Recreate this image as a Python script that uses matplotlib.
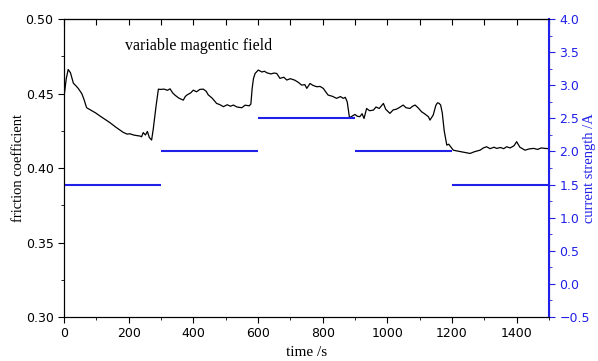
import numpy as np
import matplotlib.pyplot as plt
from matplotlib.ticker import MultipleLocator

# friction coefficient (time in s)
t_fric = [0, 7, 13, 20, 29, 37, 44, 55, 62, 70, 78, 86, 98, 111, 125, 142, 160, 183, 195, 204,
          215, 225, 235, 240, 245, 252, 258, 264, 271, 276, 285, 292, 297, 310, 320, 328,
          336, 343, 355, 369, 375, 380, 392, 400, 410, 420, 431, 440, 446, 458, 472, 483,
          493, 505, 515, 524, 535, 550, 560, 573, 578, 582, 586, 591, 601, 612, 620, 627,
          640, 650, 658, 668, 680, 689, 700, 714, 725, 735, 745, 751, 756, 761, 770, 782,
          792, 802, 810, 817, 830, 843, 855, 864, 870, 876, 883, 892, 900, 907, 915, 922,
          928, 936, 945, 957, 965, 975, 988, 995, 1008, 1018, 1029, 1040, 1049, 1058, 1070,
          1078, 1086, 1095, 1106, 1115, 1127, 1132, 1142, 1150, 1155, 1160, 1165, 1170, 1176,
          1184, 1190, 1197, 1204, 1215, 1230, 1242, 1256, 1270, 1287, 1297, 1307, 1318, 1330,
          1338, 1350, 1360, 1369, 1380, 1392, 1400, 1410, 1426, 1438, 1452, 1465, 1476, 1488,
          1500]
mu = [0.4477, 0.4600, 0.4662, 0.4640, 0.4570, 0.4552, 0.4535, 0.4500, 0.4460, 0.4405, 0.4395,
      0.4385, 0.4370, 0.4350, 0.4330, 0.4305, 0.4275, 0.4240, 0.4228, 0.4230, 0.4222, 0.4218,
      0.4215, 0.4210, 0.4238, 0.4222, 0.4246, 0.4205, 0.4188, 0.4260, 0.4420, 0.4530, 0.4528,
      0.4530, 0.4522, 0.4532, 0.4505, 0.4490, 0.4470, 0.4456, 0.4480, 0.4490, 0.4505, 0.4523,
      0.4512, 0.4528, 0.4530, 0.4515, 0.4492, 0.4470, 0.4434, 0.4425, 0.4412, 0.4425, 0.4415,
      0.4423, 0.4410, 0.4405, 0.4422, 0.4418, 0.4430, 0.4535, 0.4600, 0.4635, 0.4658, 0.4645,
      0.4650, 0.4640, 0.4632, 0.4638, 0.4635, 0.4602, 0.4610, 0.4591, 0.4600, 0.4590, 0.4575,
      0.4557, 0.4560, 0.4535, 0.4552, 0.4568, 0.4555, 0.4546, 0.4548, 0.4535, 0.4510, 0.4490,
      0.4482, 0.4468, 0.4480, 0.4468, 0.4475, 0.4445, 0.4338, 0.4350, 0.4360, 0.4348, 0.4345,
      0.4365, 0.4333, 0.4400, 0.4385, 0.4389, 0.4410, 0.4400, 0.4434, 0.4395, 0.4367, 0.4390,
      0.4396, 0.4410, 0.4423, 0.4405, 0.4400, 0.4415, 0.4423, 0.4405, 0.4378, 0.4365, 0.4345,
      0.4322, 0.4356, 0.4420, 0.4438, 0.4435, 0.4423, 0.4370, 0.4250, 0.4154, 0.4160, 0.4140,
      0.4120, 0.4115, 0.4109, 0.4104, 0.4098, 0.4110, 0.4120, 0.4135, 0.4143, 0.4130, 0.4140,
      0.4132, 0.4138, 0.4130, 0.4143, 0.4135, 0.4150, 0.4177, 0.4140, 0.4120, 0.4128, 0.4132,
      0.4125, 0.4135, 0.4132, 0.4130]

# current strength steps
t_start = [0, 300, 600, 900, 1200]
t_end = [300, 600, 900, 1200, 1500]
current = [1.5, 2.0, 2.5, 2.0, 1.5]

blue = '#2020e8'
serif = 'Liberation Serif'

fig = plt.figure(figsize=(5.98, 3.61), dpi=100)
ax = fig.add_axes([0.107, 0.122, 0.811, 0.825])
ax.plot(t_fric, mu, color='black', lw=0.9)
ax.set_xlim(0, 1500)
ax.set_ylim(0.30, 0.50)
ax.xaxis.set_major_locator(MultipleLocator(200))
ax.xaxis.set_minor_locator(MultipleLocator(100))
ax.yaxis.set_major_locator(MultipleLocator(0.05))
ax.yaxis.set_minor_locator(MultipleLocator(0.025))
ax.yaxis.set_major_formatter(plt.FormatStrFormatter('%.2f'))
ax.tick_params(which='major', direction='out', length=4, labelsize=9, top=False)
ax.tick_params(which='minor', direction='out', length=2, top=False)
ax.set_xlabel('time /s', family=serif, fontsize=11)
ax.xaxis.set_label_coords(0.5, -0.098)
ax.set_ylabel('friction coefficient', family=serif, fontsize=10.5)
ax.yaxis.set_label_coords(-0.08, 0.5)
ax.text(188, 0.4795, 'variable magentic field', family=serif, fontsize=11.5)

top = ax.secondary_xaxis('top')
top.set_xticks(range(0, 1501, 100))
top.tick_params(direction='in', length=4, labeltop=False)

ax2 = ax.twinx()
ax2.hlines(current, t_start, t_end, color=blue, lw=1.5)
ax2.set_ylim(-0.5, 4.0)
ax2.yaxis.set_major_locator(MultipleLocator(0.5))
ax2.yaxis.set_minor_locator(MultipleLocator(0.25))
ax2.tick_params(axis='y', which='major', direction='out', length=4, labelsize=9,
                colors=blue)
ax2.tick_params(axis='y', which='minor', direction='out', length=2, colors=blue)
ax2.spines['right'].set_color(blue)
ax2.spines['right'].set_linewidth(1.5)
ax2.set_ylabel('current strength /A', family=serif, fontsize=10.5, color=blue)
ax2.yaxis.set_label_coords(1.07, 0.5)

plt.savefig('out.png')
